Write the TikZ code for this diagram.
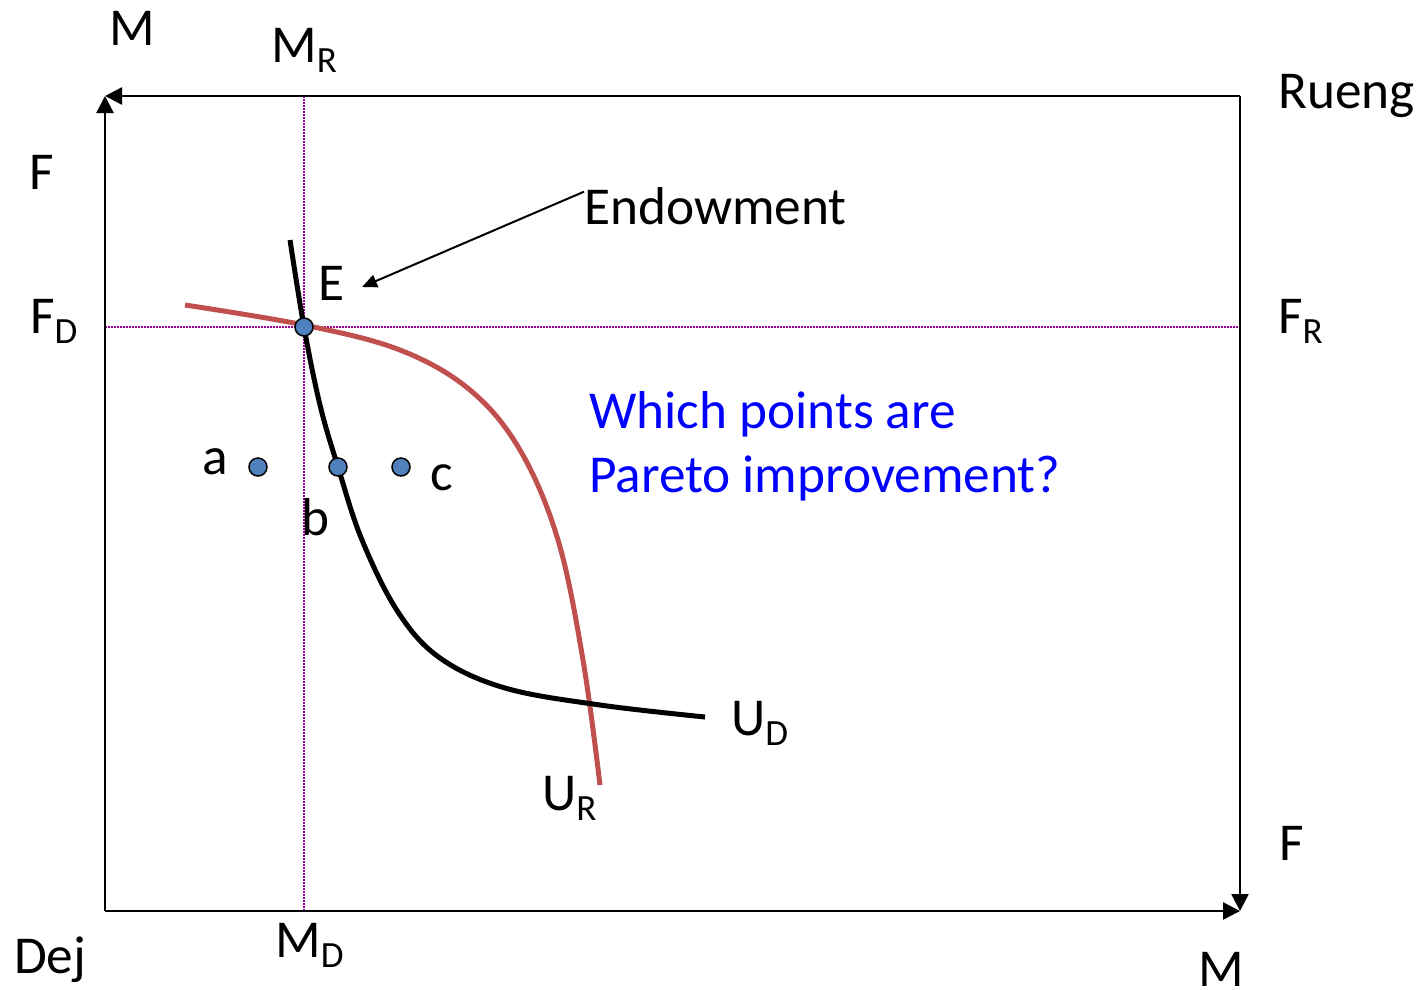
\documentclass[tikz,border=0pt]{standalone}
\usepackage{fontspec}
\setmainfont{Carlito}
\usetikzlibrary{arrows.meta}
\definecolor{redc}{HTML}{C0504D}
\definecolor{bluedot}{HTML}{4F81BD}
\definecolor{purp}{HTML}{990099}
\definecolor{qblue}{HTML}{0000FF}
\newcommand\sbs[1]{\raisebox{-10pt}{\fontsize{37}{37}\selectfont #1}}
\begin{document}
\begin{tikzpicture}[x=1pt,y=1pt,
  lbl/.style={anchor=base west,inner sep=0pt,font=\fontsize{53.3}{63}\selectfont},
  axis/.style={line width=2.5pt,-{Triangle[width=17pt,length=17pt]}},
  guide/.style={purp,line width=1.5pt,dash pattern=on 1.5pt off 1.5pt},
  dot/.style={circle,fill=bluedot,draw=black,line width=1.5pt,minimum size=18pt,inner sep=0pt}]
\useasboundingbox (0,0) rectangle (1424,-989);
\coordinate (BL) at (105,-911);
\coordinate (TL) at (105,-96);
\coordinate (TR) at (1240,-96);
\coordinate (BR) at (1240,-911);
% guides
\coordinate (gt) at (304,-96);
\coordinate (gb) at (304,-911);
\coordinate (gl) at (105,-327);
\coordinate (gr) at (1240,-327);
\draw[guide] (gt) -- (gb);
\draw[guide] (gl) -- (gr);
% box
\draw[axis] (BL) -- (TL);
\draw[axis] (TR) -- (TL);
\draw[axis] (TR) -- (BR);
\draw[axis] (BL) -- (BR);
% curves
\draw[redc,line width=5pt] plot[smooth,tension=0.6] coordinates
  {(185,-305) (304,-325) (400,-350) (470,-390) (520,-450) (558,-540) (583,-660) (600,-785)};
\draw[black,line width=5pt] plot[smooth,tension=0.6] coordinates
  {(290,-240) (304,-327) (320,-405) (338,-467) (362,-540) (398,-612) (440,-658) (505,-688) (600,-705) (705,-717)};
% dots
\node[dot] (E) at (304,-327) {};
\node[dot] (a) at (258,-467) {};
\node[dot] (b) at (338,-467) {};
\node[dot] (c) at (401,-467) {};
% labels
\node[lbl] (M1) at (109,-45) {M};
\node[lbl] (MR) at (271,-62) {M\sbs{R}};
\node[lbl] (Rueng) at (1278,-108) {Rueng};
\node[lbl] (F1) at (29,-189) {F};
\node[lbl] (FD) at (30,-333) {F\sbs{D}};
\node[lbl] (Elbl) at (318,-300) {E};
\node[lbl] (FR) at (1278,-333) {F\sbs{R}};
\node[lbl] (endow) at (584,-224) {Endowment};
\node[lbl,text=qblue] (q1) at (589,-428) {Which points are};
\node[lbl,text=qblue] (q2) at (589,-492) {Pareto improvement?};
\node[lbl] (alb) at (202,-474) {a};
\node[lbl] (clb) at (430,-490) {c};
\node[lbl] (blb) at (301,-535) {b};
\node[lbl] (UD) at (731,-735) {U\sbs{D}};
\node[lbl] (UR) at (542,-810) {U\sbs{R}};
\node[lbl] (F2) at (1279,-860) {F};
\node[lbl] (Dej) at (14,-973) {Dej};
\node[lbl] (MD) at (275,-957) {M\sbs{D}};
\node[lbl] (M2) at (1198,-986) {M};
% endowment arrow
\coordinate (etip) at (362,-287);
\draw[line width=2pt,-{Triangle[width=13pt,length=15pt]}] (endow.west) ++(0,14) -- (etip);
\end{tikzpicture}
\end{document}
